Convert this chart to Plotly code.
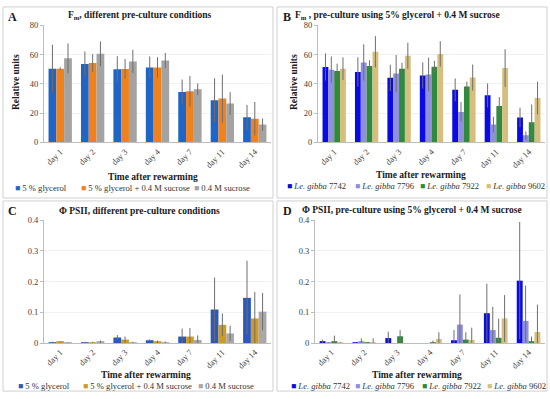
import plotly.graph_objects as go

days = ["day 1", "day 2", "day 3", "day 4", "day 7", "day 11", "day 14"]

# Panel A: Fm, different pre-culture conditions
a_names = ["5 % glycerol", "5 % glycerol + 0.4 M sucrose", "0.4 M sucrose"]
a_gly = [50.4, 53.6, 50.0, 51.3, 34.5, 28.9, 17.2]
a_gly_err = [16.5, 8.6, 9.0, 7.5, 8.5, 15.0, 8.5]
a_glysuc = [50.4, 54.4, 50.3, 51.3, 35.0, 30.0, 16.2]
a_glysuc_err = [1.0, 6.0, 6.8, 7.0, 10.5, 16.3, 11.5]
a_suc = [57.5, 60.6, 55.4, 56.0, 36.4, 26.7, 12.2]
a_suc_err = [10.2, 8.5, 8.0, 5.2, 4.0, 7.7, 4.2]

# Panel B: Fm, pre-culture using 5% glycerol + 0.4 M sucrose
b_names = ["7742", "7796", "7922", "9602"]
b_7742 = [51.6, 48.2, 44.2, 45.8, 36.0, 32.2, 17.1]
b_7742_err = [9.3, 10.0, 9.0, 9.0, 7.8, 8.2, 6.7]
b_7796 = [49.8, 54.7, 47.1, 46.5, 20.9, 12.2, 4.9]
b_7796_err = [9.0, 12.4, 12.7, 11.5, 6.7, 5.4, 2.7]
b_7922 = [48.9, 52.2, 50.4, 51.8, 38.2, 24.9, 13.8]
b_7922_err = [5.0, 4.0, 4.0, 4.0, 3.4, 6.2, 12.2]
b_9602 = [50.4, 62.0, 59.3, 60.5, 44.4, 50.9, 30.4]
b_9602_err = [7.8, 10.7, 8.9, 8.7, 8.9, 12.9, 11.2]

# Panel C: PhiPSII, different pre-culture conditions
c_gly = [0.002, 0.001, 0.018, 0.009, 0.021, 0.109, 0.147]
c_gly_err = [0.002, 0.001, 0.008, 0.003, 0.026, 0.104, 0.121]
c_glysuc = [0.003, 0.002, 0.011, 0.003, 0.021, 0.059, 0.080]
c_glysuc_err = [0.002, 0.002, 0.010, 0.005, 0.028, 0.037, 0.086]
c_suc = [0.001, 0.003, 0.002, 0.002, 0.010, 0.031, 0.102]
c_suc_err = [0.001, 0.005, 0.002, 0.003, 0.015, 0.025, 0.061]

# Panel D: PhiPSII, pre-culture using 5% glycerol + 0.4 M sucrose
d_7742 = [0.003, 0.001, 0.016, 0.0, 0.009, 0.097, 0.203]
d_7742_err = [0.008, 0.001, 0.021, 0.0, 0.033, 0.096, 0.191]
d_7796 = [0.001, 0.003, 0.0, 0.0, 0.060, 0.042, 0.072]
d_7796_err = [0.001, 0.012, 0.0, 0.0, 0.098, 0.076, 0.115]
d_7922 = [0.005, 0.001, 0.022, 0.001, 0.011, 0.017, 0.004]
d_7922_err = [0.019, 0.001, 0.020, 0.007, 0.024, 0.062, 0.017]
d_9602 = [0.001, 0.002, 0.0, 0.013, 0.010, 0.080, 0.036]
d_9602_err = [0.001, 0.013, 0.0, 0.022, 0.040, 0.076, 0.089]

col_a = ["#1f65c8", "#f0821e", "#a3a3a3"]
col_c = ["#2a58bc", "#cf9b24", "#a8a8a8"]
col_b = ["#0a0ae6", "#8f8fdc", "#2f8a3c", "#d6bf7e"]

SERIF = "Liberation Serif, Times New Roman, serif"
W, H = 550, 399

fig = go.Figure()


def add_bars(values, errs, names, colors, xa, ya):
    for v, e, n, c in zip(values, errs, names, colors):
        fig.add_trace(go.Bar(
            x=days, y=v, name=n, marker=dict(color=c, line=dict(width=0)),
            error_y=dict(type="data", array=e, visible=True, color="#6e6e6e",
                         thickness=1, width=0),
            xaxis=xa, yaxis=ya, showlegend=False))


add_bars([a_gly, a_glysuc, a_suc], [a_gly_err, a_glysuc_err, a_suc_err],
         a_names, col_a, "x", "y")
add_bars([b_7742, b_7796, b_7922, b_9602],
         [b_7742_err, b_7796_err, b_7922_err, b_9602_err],
         b_names, col_b, "x2", "y2")
add_bars([c_gly, c_glysuc, c_suc], [c_gly_err, c_glysuc_err, c_suc_err],
         a_names, col_c, "x3", "y3")
add_bars([d_7742, d_7796, d_7922, d_9602],
         [d_7742_err, d_7796_err, d_7922_err, d_9602_err],
         b_names, col_b, "x4", "y4")


def px(x):
    return x / W


def py(y):
    return 1 - y / H


xcommon = dict(type="category", tickangle=-45, showline=True, linecolor="#bdbdbd",
               linewidth=1, ticks="", showgrid=False,
               tickfont=dict(family=SERIF, size=8.5, color="#404040"))
ycommon = dict(showline=True, linecolor="#bdbdbd", linewidth=1, ticks="outside",
               ticklen=3, tickcolor="#bdbdbd", showgrid=True, gridcolor="#f1f1f1",
               zeroline=False,
               tickfont=dict(family=SERIF, size=8.5, color="#404040"))

top_ab, bot_ab = py(21), py(141)
top_cd, bot_cd = py(220.7), py(346.7)

fig.update_layout(
    width=W, height=H, margin=dict(l=0, r=0, t=0, b=0),
    paper_bgcolor="white", plot_bgcolor="white",
    barmode="group", bargap=0.28, bargroupgap=0,
    showlegend=False,
    font=dict(family=SERIF),
    xaxis=dict(domain=[px(44), px(271)], anchor="y", **xcommon),
    yaxis=dict(domain=[bot_ab, top_ab], anchor="x", range=[0, 80], dtick=20, **ycommon),
    xaxis2=dict(domain=[px(318), px(545)], anchor="y2", **xcommon),
    yaxis2=dict(domain=[bot_ab, top_ab], anchor="x2", range=[0, 80], dtick=20, **ycommon),
    xaxis3=dict(domain=[px(44), px(271)], anchor="y3", **xcommon),
    yaxis3=dict(domain=[bot_cd, top_cd], anchor="x3", range=[0, 0.4], dtick=0.1, **ycommon),
    xaxis4=dict(domain=[px(315), px(545)], anchor="y4", **xcommon),
    yaxis4=dict(domain=[bot_cd, top_cd], anchor="x4", range=[0, 0.4], dtick=0.1, **ycommon),
)

# panel borders
for (x0, y0, x1, y1) in [(3, 2, 273, 198), (277, 2, 547, 198),
                         (3, 201, 273, 396), (277, 201, 547, 396)]:
    fig.add_shape(type="rect", xref="paper", yref="paper",
                  x0=px(x0), x1=px(x1), y0=py(y0), y1=py(y1),
                  line=dict(color="#d0d0d0", width=1), fillcolor="rgba(0,0,0,0)")

ann = []


def text(x, y, t, size=10, bold=False, anchor="center", angle=0, color="#1a1a1a"):
    if bold:
        t = "<b>" + t + "</b>"
    ann.append(dict(xref="paper", yref="paper", x=px(x), y=py(y), text=t,
                    showarrow=False, xanchor=anchor, yanchor="middle",
                    textangle=angle,
                    font=dict(family=SERIF, size=size, color=color)))


# panel letters
text(12, 12, "A", 12, True)
text(287, 12, "B", 12, True)
text(12, 211, "C", 12, True)
text(287, 211, "D", 12, True)

# titles
text(140, 11, "F<sub>m</sub>, different pre-culture conditions", 9.5, True)
text(397, 11, "F<sub>m</sub> , pre-culture using 5% glycerol + 0.4 M sucrose", 9.5, True)
text(140, 211, "Φ PSII, different pre-culture conditions", 9.5, True)
text(412, 210, "Φ PSII, pre-culture using 5% glycerol + 0.4 M sucrose", 9.5, True)

# y titles
text(16, 79, "Relative units", 9.5, True, angle=-90)
text(294, 79, "Relative units", 9.5, True, angle=-90)

# x titles
text(153, 176, "Time after rewarming", 9.5, True)
text(421, 174, "Time after rewarming", 9.5, True)
text(146, 380, "Time after rewarming", 9.5, True)
text(417, 379, "Time after rewarming", 9.5, True)


def legend_item(x, y, color, label):
    ann.append(dict(xref="paper", yref="paper", x=px(x - 4), y=py(y),
                    text='<span style="color:%s">■</span> %s' % (color, label),
                    showarrow=False, xanchor="left", yanchor="middle",
                    font=dict(family=SERIF, size=8.6, color="#333333")))


# legends A and C
for xs, y, cols in [((17, 83, 196), 188, col_a), ((20, 85, 200), 391, col_c)]:
    for x, c, n in zip(xs, cols, a_names):
        legend_item(x, y, c, n)

# legends B and D
for xs, y in [((289, 357, 422, 488), 186), ((293, 357, 424, 489), 391)]:
    for x, c, n in zip(xs, col_b, b_names):
        legend_item(x, y, c, "<i>Le. gibba</i> " + n)

fig.update_layout(annotations=ann)
fig.write_html("out.html", config={"displayModeBar": False},
               post_script="document.body.style.margin='0';")
